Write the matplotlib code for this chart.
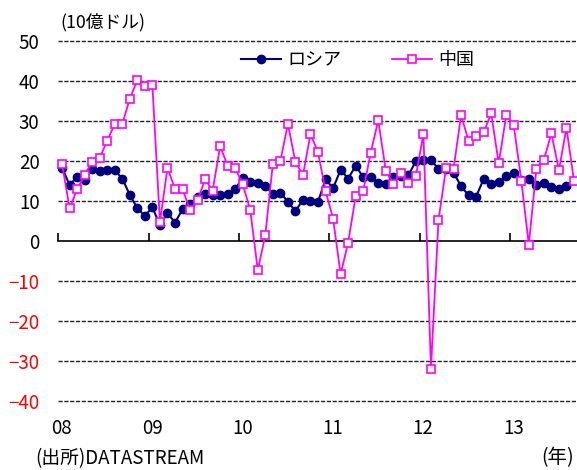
import matplotlib
matplotlib.use("Agg")
import matplotlib.pyplot as plt
from matplotlib.transforms import blended_transform_factory

plt.rcParams['font.family'] = ['Noto Sans CJK JP', 'DejaVu Sans']

# Monthly data, Jan 2008 - Sep 2013 (10億ドル)
russia = [18.3, 14.0, 16.0, 15.3, 17.9, 17.6, 17.7, 17.7, 15.6, 11.5,
          8.2, 6.3, 8.4, 4.0, 7.0, 4.6, 7.9, 9.3, 11.0, 11.8,
          11.5, 11.6, 11.8, 13.0, 15.8, 14.8, 14.5, 13.7, 11.8, 12.1,
          9.8, 7.5, 10.3, 10.0, 9.8, 15.4, 13.2, 17.8, 15.6, 18.8,
          16.0, 15.9, 14.5, 14.2, 16.0, 16.2, 16.4, 20.0, 20.2, 20.2,
          18.1, 18.1, 17.1, 13.7, 11.4, 11.1, 15.5, 14.3, 14.7, 16.2,
          17.0, 15.2, 15.6, 14.1, 14.6, 13.5, 13.1, 13.7]
china = [19.3, 8.2, 12.9, 16.5, 19.8, 20.8, 25.1, 29.2, 29.2, 35.6,
         40.2, 38.8, 38.9, 4.7, 18.3, 13.0, 13.0, 7.7, 10.2, 15.4,
         12.6, 23.7, 18.8, 18.2, 14.2, 7.7, -7.3, 1.5, 19.3, 20.0,
         29.3, 19.7, 16.5, 26.7, 22.2, 12.5, 5.6, -8.3, -0.4, 11.2,
         12.5, 22.1, 30.2, 17.6, 14.3, 17.1, 14.5, 16.3, 26.8, -31.9,
         5.2, 18.2, 18.0, 31.4, 25.1, 26.2, 27.2, 31.9, 19.4, 31.4,
         28.9, 15.1, -0.9, 18.0, 20.3, 26.9, 17.7, 28.3, 15.0]
series_names = ['ロシア', '中国']
year_labels = ['08', '09', '10', '11', '12', '13']
year_starts = [0, 12, 24, 36, 48, 60]
yticks = [50, 40, 30, 20, 10, 0, -10, -20, -30, -40]

fig = plt.figure(figsize=(5.77, 4.70), dpi=100)
ax = fig.add_axes([58.3 / 577, 1 - 401 / 470, (577 - 58.3) / 577, 360 / 470])
ax.set_xlim(0, 68.9)
ax.set_ylim(-40, 50)

for s in ['top', 'right', 'left']:
    ax.spines[s].set_visible(False)
ax.spines['bottom'].set_position(('data', 0))
ax.spines['bottom'].set_linewidth(1.2)
ax.spines['bottom'].set_zorder(1)

for y in yticks:
    if y != 0:
        ax.axhline(y, color='#222222', lw=1.0, ls=(0, (3, 1.2)), zorder=1, clip_on=False)

xr = [i + 0.5 for i in range(len(russia))]
xc = [i + 0.5 for i in range(len(china))]
ax.plot(xr, russia, color='#000080', lw=1.5, marker='o', markersize=6,
        markerfacecolor='#000080', markeredgecolor='#000080', label=series_names[0], zorder=3,
        clip_on=False)
ax.plot(xc, china, color='#FF00FF', lw=1.3, marker='s', markersize=5.5,
        markerfacecolor='white', markeredgecolor='#FF00FF', markeredgewidth=1.2,
        label=series_names[1], zorder=4, clip_on=False)

ax.set_xticks(year_starts)
ax.set_xticklabels([])
ax.tick_params(axis='x', direction='in', length=6, width=1.2, color='black')
ax.set_yticks(yticks)
ax.set_yticklabels([str(v).replace('-', '−') for v in yticks], fontsize=13.5)
ax.tick_params(axis='y', length=0, pad=13.5)
for lbl, v in zip(ax.get_yticklabels(), yticks):
    lbl.set_color('red' if v < 0 else 'black')

trans = blended_transform_factory(ax.transData, fig.transFigure)
for lab, xp in zip(year_labels, year_starts):
    ax.text(xp + 0.45, 1 - 429 / 470, lab, transform=trans, ha='center', va='center',
            fontsize=13.5, clip_on=False)

fig.text(60 / 577, 1 - 22 / 470, '(10億ドル)', fontsize=12.8, ha='left', va='center')
fig.text(35 / 577, 1 - 458.5 / 470, '(出所)DATASTREAM', fontsize=13.5, ha='left', va='center')
fig.text(574 / 577, 1 - 458 / 470, '(年)', fontsize=14, ha='right', va='center')

leg = ax.legend(loc='center', bbox_to_anchor=(0.577, 0.947), ncol=2, frameon=False,
                fontsize=13, handlelength=2.2, handletextpad=0.35, columnspacing=2.8)

fig.savefig('out.png', dpi=100)
